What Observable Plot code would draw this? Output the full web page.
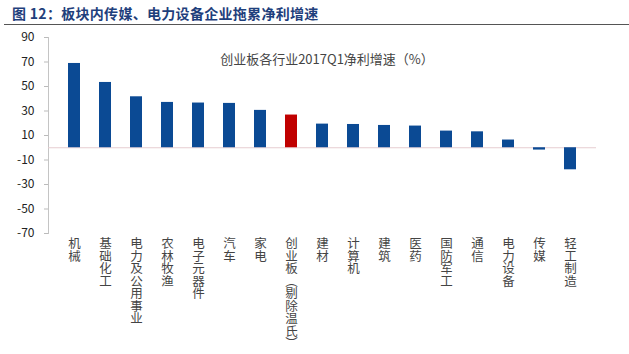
<!DOCTYPE html>
<html>
<head>
<meta charset="utf-8">
<script src="https://cdn.jsdelivr.net/npm/d3@7"></script>
<script src="https://cdn.jsdelivr.net/npm/@observablehq/plot@0.6"></script>
<style>
  body { margin: 0; background: #fff; width: 629px; height: 354px; overflow: hidden; font-family: "Noto Sans CJK SC", sans-serif; }
  #header { position: relative; height: 28px; }
  #title { position: absolute; left: 12px; top: 3px; font-size: 14px; font-weight: bold; color: #1f3f7c; white-space: nowrap; letter-spacing: 0.3px; }
  #rule { position: absolute; left: 4px; right: 0; top: 24px; height: 1px; background: #555; }
  #chart { position: relative; }
  #subtitle { position: absolute; left: 0; width: 654px; text-align: center; top: 21px; font-size: 13px; color: #444; white-space: nowrap; }
</style>
</head>
<body>
<div id="header"><div id="title">图 12：板块内传媒、电力设备企业拖累净利增速</div><div id="rule"></div></div>
<div id="chart"><div id="subtitle">创业板各行业2017Q1净利增速（%）</div></div>
<script>
const categories = ["机械","基础化工","电力及公用事业","农林牧渔","电子元器件","汽车","家电","创业板（剔除温氏）","建材","计算机","建筑","医药","国防军工","通信","电力设备","传媒","轻工制造"];
const growth = [68.8, 53.3, 41.6, 37.0, 36.5, 36.2, 30.5, 26.7, 19.3, 19.0, 18.2, 17.7, 13.6, 13.0, 6.3, -1.9, -18.0];
const highlight = "创业板（剔除温氏）";
const yTicks = [-70, -50, -30, -10, 10, 30, 50, 70, 90];

const data = categories.map((c, i) => ({category: c, value: growth[i]}));

const chart = Plot.plot({
  width: 629,
  height: 326,
  marginTop: 9,
  marginBottom: 121,
  marginLeft: 48,
  marginRight: 33,
  style: {fontFamily: "'Noto Sans CJK SC', sans-serif", background: "#fff"},
  x: {domain: categories, padding: 0.6, axis: null, label: null},
  y: {domain: [-70, 90], axis: null, label: null},
  marks: [
    Plot.axisY({ticks: yTicks, label: null, tickSize: 4, tickPadding: 10, tickFormat: d => String(d), fontSize: 12, color: "#222", stroke: "#bbb"}),
    Plot.frame({anchor: "left", stroke: "#c4c4c4"}),
    Plot.ruleY([0], {stroke: "#e6cdd0", strokeWidth: 1}),
    Plot.barY(data, {x: "category", y: "value", fill: d => d.category === highlight ? "#c00000" : "#0b4a94"}),
    Plot.axisX({
      label: null,
      tickSize: 0,
      tickPadding: 6,
      fontSize: 12.5,
      color: "#444",
      lineHeight: 1.0,
      textAnchor: "middle",
      tickFormat: d => d.replace("（", "︵").replace("）", "︶").split("").join("\n")
    })
  ]
});
document.getElementById("chart").appendChild(chart);
</script>
</body>
</html>
